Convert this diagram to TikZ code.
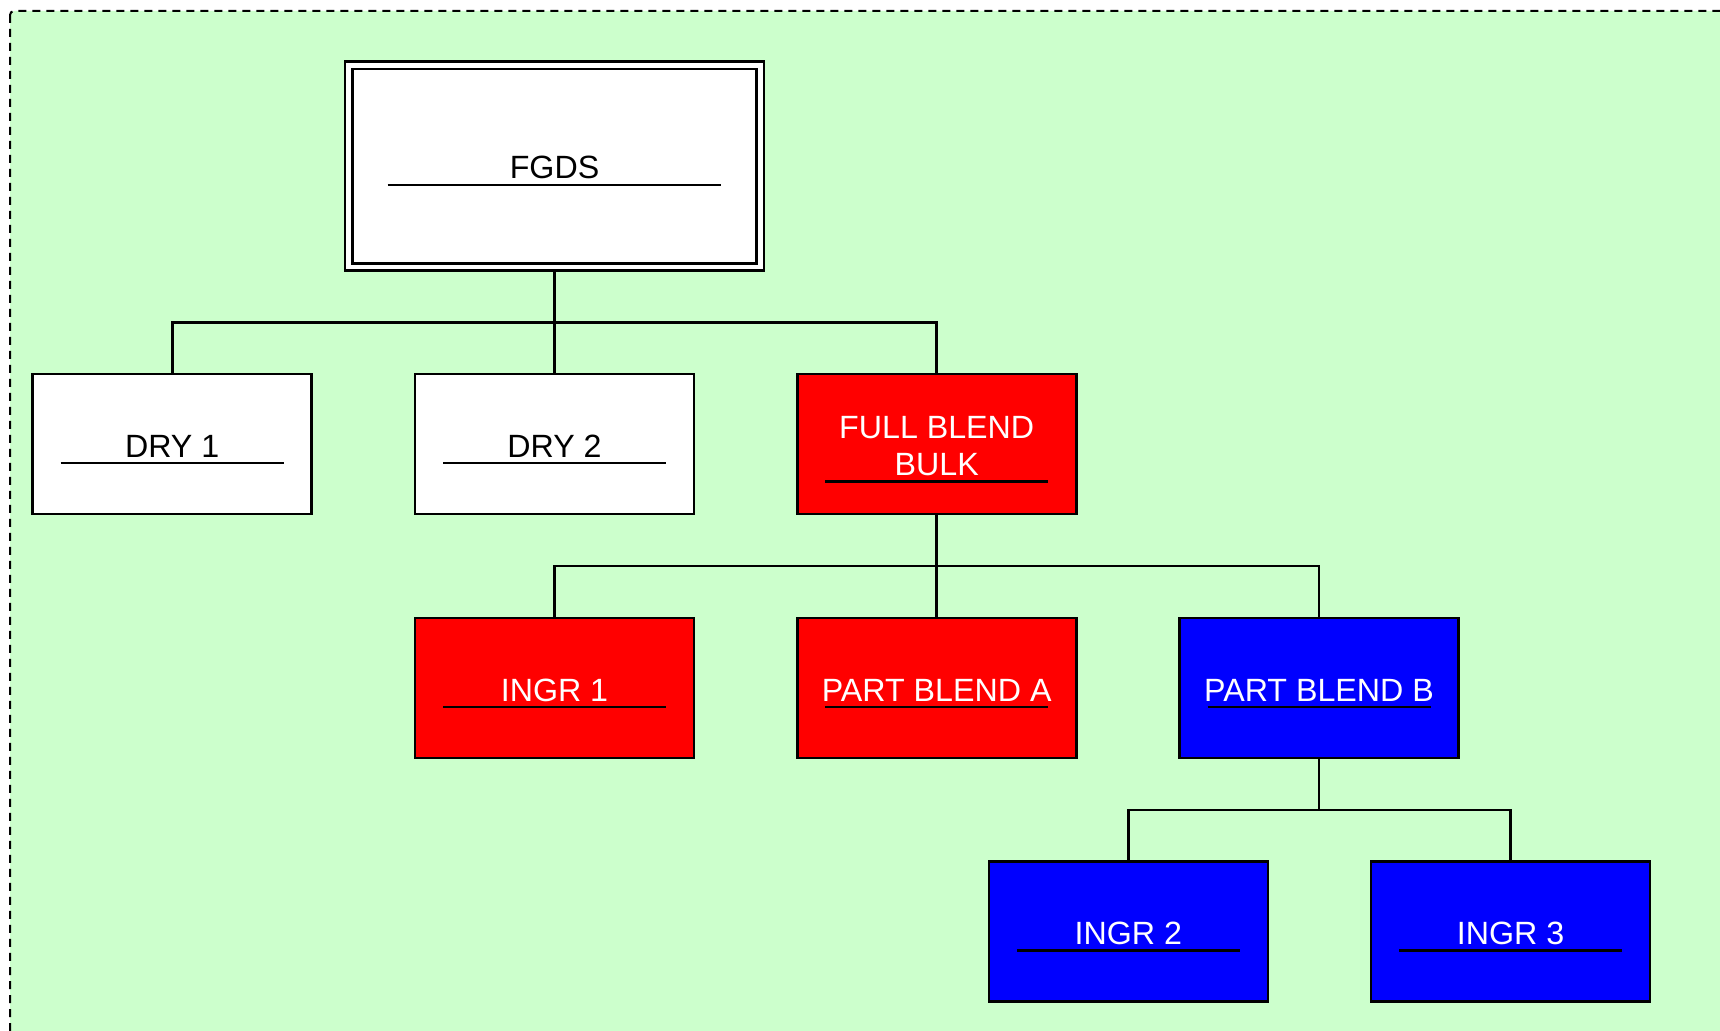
\documentclass[tikz,border=0pt]{standalone}
\usepackage{fontspec}
\setmainfont{Liberation Sans}
\usetikzlibrary{calc}
\definecolor{panelgreen}{HTML}{CCFFCC}
\begin{document}
\begin{tikzpicture}[x=0.5pt,y=-0.5pt,
  box/.style={draw=black, line width=1.3pt, outer sep=0pt, inner sep=0pt,
    minimum width=139.5pt, minimum height=70pt,
    font=\fontsize{16.1pt}{18.5pt}\selectfont, align=center},
  oneline/.style={text height=13.4pt, text depth=0pt},
  plainbox/.style={box, fill=white, text=black},
  redbox/.style={box, fill=red, text=white},
  bluebox/.style={box, fill=blue, text=white},
  link/.style={line width=1.3pt},
  uline/.style={line width=1.3pt}]
\useasboundingbox (0,0) rectangle (1720,1031);
\clip (0,0) rectangle (1720,1031);
% panel
\draw[fill=panelgreen, dash pattern=on 4pt off 3pt, line width=1pt, rounded corners=2pt]
  (10,11) rectangle (1760,1060);

% root
\node[box, fill=white, minimum width=209.5pt, minimum height=104.5pt,
      text height=12.1pt, text depth=0pt] (fgds) at (554.5,166.2) {FGDS};
\draw[line width=1.3pt] ($(fgds.north west)+(7.3,7.3)$) rectangle ($(fgds.south east)+(-7.3,-7.3)$);
\draw[uline] ($(fgds.north west)+(42.7,123.3)$) -- ($(fgds.north east)+(-42.7,123.3)$);

% second level
\node[plainbox, oneline] (dry1) at (172.2,444) {DRY 1};
\node[plainbox, oneline] (dry2) at (554.5,444) {DRY 2};
\node[redbox, text height=31.7pt, text depth=0pt] (full) at (936.7,444) {FULL BLEND\\BULK};

% third level
\node[redbox, oneline] (ingr1) at (554.5,688) {INGR 1};
\node[redbox, oneline] (parta) at (936.7,688) {PART BLEND A};
\node[bluebox, oneline] (partb) at (1319,688) {PART BLEND B};

% fourth level
\node[bluebox, oneline] (ingr2) at (1128.3,931.3) {INGR 2};
\node[bluebox, oneline] (ingr3) at (1510.6,931.3) {INGR 3};

% underlines
\foreach \b in {dry1,dry2,ingr1,parta,partb,ingr2,ingr3}{
  \draw[uline] ($(\b.north west)+(28,89)$) -- ($(\b.north east)+(-28,89)$);
}
\draw[uline] ($(full.north west)+(28,107.4)$) -- ($(full.north east)+(-28,107.4)$);

% connectors
\draw[link] (fgds.south) -- ++(0,51.6) -| (dry1.north);
\draw[link] (fgds.south) -- (dry2.north);
\draw[link] (fgds.south) -- ++(0,51.6) -| (full.north);
\draw[link] (full.south) -- ++(0,52) -| (ingr1.north);
\draw[link] (full.south) -- (parta.north);
\draw[link] (full.south) -- ++(0,52) -| (partb.north);
\draw[link] (partb.south) -- ++(0,52) -| (ingr2.north);
\draw[link] (partb.south) -- ++(0,52) -| (ingr3.north);
\end{tikzpicture}
\end{document}
